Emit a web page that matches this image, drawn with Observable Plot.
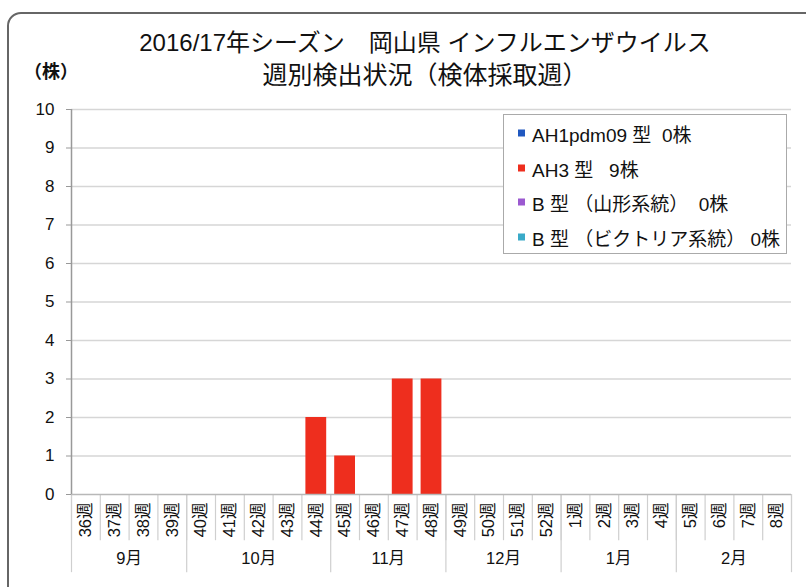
<!DOCTYPE html>
<html>
<head>
<meta charset="utf-8">
<script src="https://cdn.jsdelivr.net/npm/d3@7"></script>
<script src="https://cdn.jsdelivr.net/npm/@observablehq/plot@0.6"></script>
<style>
  html, body { margin: 0; padding: 0; background: #fff; }
  body { width: 806px; height: 587px; overflow: hidden; position: relative;
         font-family: "Liberation Sans", Arial, "Noto Sans CJK JP", sans-serif; color: #111; }
  #frame { position: absolute; left: 7px; top: 12px; width: 820px; height: 600px;
           border: 2px solid #666; border-radius: 14px; box-sizing: border-box; }
  #chart { position: absolute; left: 0; top: 0; }
  .t { position: absolute; white-space: nowrap; transform: translate(-50%, -50%); }
  #legend { position: absolute; left: 503px; top: 114px; width: 284px; height: 140px;
            box-sizing: border-box; border: 1px solid #aaa; background: #fff; }
  .row { position: absolute; left: 14px; display: flex; align-items: center; font-size: 19px;
         white-space: pre; transform: translateY(-50%); }
  .sw { width: 7px; height: 7px; margin-right: 7px; }
</style>
</head>
<body>
<div id="frame"></div>
<div id="chart"></div>
<div class="t" style="left:425px; top:40px; font-size:24px;">2016/17年シーズン　岡山県 インフルエンザウイルス</div>
<div class="t" style="left:425px; top:73px; font-size:25px;">週別検出状況（検体採取週）</div>
<div class="t" style="left:51px; top:70px; font-size:18px; font-weight:bold;">（株）</div>
<div id="legend"></div>
<script>
// ---- data ----
const weeks = ["36週","37週","38週","39週","40週","41週","42週","43週","44週","45週","46週","47週","48週",
               "49週","50週","51週","52週","1週","2週","3週","4週","5週","6週","7週","8週"];
const months = ["9月","10月","11月","12月","1月","2月"];
const monthWeekCounts = [4, 5, 4, 4, 4, 4];
const seriesNames = ["AH1pdm09 型", "AH3 型", "B 型 （山形系統）", "B 型 （ビクトリア系統）"];
const legendLabels = ["AH1pdm09 型  0株", "AH3 型   9株", "B 型 （山形系統）  0株", "B 型 （ビクトリア系統） 0株"];
const seriesColors = ["#2058c0", "#ee2e1e", "#9b59d0", "#3aaac8"];
const ah1pdm09 = [0,0,0,0,0,0,0,0,0,0,0,0,0,0,0,0,0,0,0,0,0,0,0,0,0];
const ah3      = [0,0,0,0,0,0,0,0,2,1,0,3,3,0,0,0,0,0,0,0,0,0,0,0,0];
const bYamagata= [0,0,0,0,0,0,0,0,0,0,0,0,0,0,0,0,0,0,0,0,0,0,0,0,0];
const bVictoria= [0,0,0,0,0,0,0,0,0,0,0,0,0,0,0,0,0,0,0,0,0,0,0,0,0];
const yTicks = [0,1,2,3,4,5,6,7,8,9,10];

// ---- build tables ----
const seriesValues = [ah1pdm09, ah3, bYamagata, bVictoria];
const tidy = [];
seriesValues.forEach((vals, s) => vals.forEach((v, i) => {
  if (v > 0) tidy.push({i, value: v, series: seriesNames[s]});
}));
const weekData = weeks.map((w, i) => ({w, i}));
const monthData = [];
let start = 0;
months.forEach((m, k) => {
  monthData.push({m, start, end: start + monthWeekCounts[k]});
  start += monthWeekCounts[k];
});
const monthBounds = [0, ...monthData.map(d => d.end)];
const weekBounds = d3.range(weeks.length + 1);

const chart = Plot.plot({
  width: 806,
  height: 587,
  marginLeft: 71,
  marginRight: 15,
  marginTop: 109,
  marginBottom: 93,
  style: {fontFamily: '"Liberation Sans", Arial, "Noto Sans CJK JP", sans-serif', background: "transparent", color: "#111", overflow: "visible"},
  x: {domain: [0, weeks.length], axis: null},
  y: {domain: [0, 10], axis: null},
  color: {domain: seriesNames, range: seriesColors},
  marks: [
    Plot.ruleY(yTicks.filter(d => d > 0), {stroke: "#d6d6d6", strokeWidth: 1.5, strokeOpacity: 1}),
    Plot.ruleX(weekBounds, {y1: 0, y2: -1.2, stroke: "#cfcfcf", strokeOpacity: 1, strokeWidth: 1.2}),
    Plot.ruleX(monthBounds, {y1: 0, y2: -2.03, stroke: "#cfcfcf", strokeOpacity: 1, strokeWidth: 1.2}),
    Plot.rectY(tidy, {x1: "i", x2: d => d.i + 1, y: "value", fill: "series", insetLeft: 4, insetRight: 4}),
    Plot.ruleY([0], {stroke: "#b8b8b8", strokeWidth: 1.5, strokeOpacity: 1}),
    Plot.ruleX([0], {stroke: "#999", strokeWidth: 1.5, strokeOpacity: 1}),
    Plot.axisY({ticks: yTicks, tickSize: 5, tickPadding: 12, fontSize: 17, label: null, stroke: "#999"}),
    Plot.text(weekData, {x: d => d.i + 0.5, y: 0, text: "w", rotate: -90, textAnchor: "end", dy: 8, fontSize: 16.5, fill: "#111"}),
    Plot.text(monthData, {x: d => (d.start + d.end) / 2, y: 0, text: "m", dy: 64, fontSize: 16.5, fill: "#111"})
  ]
});
document.getElementById("chart").appendChild(chart);

// legend
const legend = document.getElementById("legend");
const rowCenters = [18, 53, 87, 122];
legendLabels.forEach((lab, k) => {
  const row = document.createElement("div");
  row.className = "row";
  row.style.top = rowCenters[k] + "px";
  const sw = document.createElement("div");
  sw.className = "sw";
  sw.style.background = seriesColors[k];
  const tx = document.createElement("span");
  tx.textContent = lab;
  row.appendChild(sw);
  row.appendChild(tx);
  legend.appendChild(row);
});
</script>
</body>
</html>
